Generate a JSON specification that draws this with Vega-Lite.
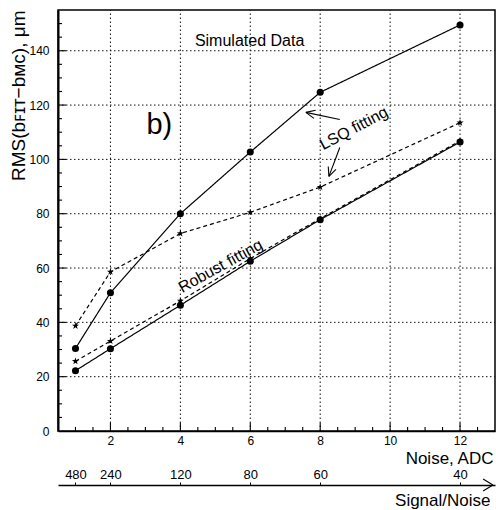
{
  "$schema": "https://vega.github.io/schema/vega-lite/v6.json",
  "width": 437,
  "height": 421,
  "autosize": {"type": "none"},
  "padding": {"left": 58, "top": 10, "right": 1, "bottom": 79},
  "background": "white",
  "config": {
    "view": {"stroke": "black", "strokeWidth": 1.5},
    "font": "Liberation Sans",
    "axis": {"labelFont": "Liberation Sans", "titleFont": "Liberation Sans", "labelColor": "black", "titleColor": "black", "titleFontWeight": "normal", "labelFlush": false}
  },
  "datasets": {
    "curves": [
      {"noise": 1, "rms": 30.4, "kind": "dot", "curve": "LSQ dot"},
      {"noise": 2, "rms": 50.9, "kind": "dot", "curve": "LSQ dot"},
      {"noise": 4, "rms": 80.0, "kind": "dot", "curve": "LSQ dot"},
      {"noise": 6, "rms": 102.7, "kind": "dot", "curve": "LSQ dot"},
      {"noise": 8, "rms": 124.7, "kind": "dot", "curve": "LSQ dot"},
      {"noise": 12, "rms": 149.5, "kind": "dot", "curve": "LSQ dot"},
      {"noise": 1, "rms": 38.7, "kind": "star", "curve": "LSQ star"},
      {"noise": 2, "rms": 58.6, "kind": "star", "curve": "LSQ star"},
      {"noise": 4, "rms": 72.7, "kind": "star", "curve": "LSQ star"},
      {"noise": 6, "rms": 80.5, "kind": "star", "curve": "LSQ star"},
      {"noise": 8, "rms": 89.8, "kind": "star", "curve": "LSQ star"},
      {"noise": 12, "rms": 113.5, "kind": "star", "curve": "LSQ star"},
      {"noise": 1, "rms": 22.2, "kind": "dot", "curve": "Robust dot"},
      {"noise": 2, "rms": 30.3, "kind": "dot", "curve": "Robust dot"},
      {"noise": 4, "rms": 46.3, "kind": "dot", "curve": "Robust dot"},
      {"noise": 6, "rms": 62.5, "kind": "dot", "curve": "Robust dot"},
      {"noise": 8, "rms": 77.8, "kind": "dot", "curve": "Robust dot"},
      {"noise": 12, "rms": 106.4, "kind": "dot", "curve": "Robust dot"},
      {"noise": 1, "rms": 25.7, "kind": "star", "curve": "Robust star"},
      {"noise": 2, "rms": 33.1, "kind": "star", "curve": "Robust star"},
      {"noise": 4, "rms": 47.9, "kind": "star", "curve": "Robust star"},
      {"noise": 6, "rms": 63.5, "kind": "star", "curve": "Robust star"},
      {"noise": 8, "rms": 78.2, "kind": "star", "curve": "Robust star"},
      {"noise": 12, "rms": 106.8, "kind": "star", "curve": "Robust star"}
    ],
    "segments": [
      {"part": "grid", "x": 2, "y": 0, "x2": 2, "y2": 155},
      {"part": "grid", "x": 4, "y": 0, "x2": 4, "y2": 155},
      {"part": "grid", "x": 6, "y": 0, "x2": 6, "y2": 155},
      {"part": "grid", "x": 8, "y": 0, "x2": 8, "y2": 155},
      {"part": "grid", "x": 10, "y": 0, "x2": 10, "y2": 155},
      {"part": "grid", "x": 12, "y": 0, "x2": 12, "y2": 155},
      {"part": "grid", "x": 0.5, "y": 20, "x2": 13, "y2": 20},
      {"part": "grid", "x": 0.5, "y": 40, "x2": 13, "y2": 40},
      {"part": "grid", "x": 0.5, "y": 60, "x2": 13, "y2": 60},
      {"part": "grid", "x": 0.5, "y": 80, "x2": 13, "y2": 80},
      {"part": "grid", "x": 0.5, "y": 100, "x2": 13, "y2": 100},
      {"part": "grid", "x": 0.5, "y": 120, "x2": 13, "y2": 120},
      {"part": "grid", "x": 0.5, "y": 140, "x2": 13, "y2": 140},
      {"part": "tick", "x": 1, "y": 0, "x2": 1, "y2": 1.5},
      {"part": "tick", "x": 1.5, "y": 0, "x2": 1.5, "y2": 1.5},
      {"part": "tick", "x": 2, "y": 0, "x2": 2, "y2": 3},
      {"part": "tick", "x": 2.5, "y": 0, "x2": 2.5, "y2": 1.5},
      {"part": "tick", "x": 3, "y": 0, "x2": 3, "y2": 1.5},
      {"part": "tick", "x": 3.5, "y": 0, "x2": 3.5, "y2": 1.5},
      {"part": "tick", "x": 4, "y": 0, "x2": 4, "y2": 3},
      {"part": "tick", "x": 4.5, "y": 0, "x2": 4.5, "y2": 1.5},
      {"part": "tick", "x": 5, "y": 0, "x2": 5, "y2": 1.5},
      {"part": "tick", "x": 5.5, "y": 0, "x2": 5.5, "y2": 1.5},
      {"part": "tick", "x": 6, "y": 0, "x2": 6, "y2": 3},
      {"part": "tick", "x": 6.5, "y": 0, "x2": 6.5, "y2": 1.5},
      {"part": "tick", "x": 7, "y": 0, "x2": 7, "y2": 1.5},
      {"part": "tick", "x": 7.5, "y": 0, "x2": 7.5, "y2": 1.5},
      {"part": "tick", "x": 8, "y": 0, "x2": 8, "y2": 3},
      {"part": "tick", "x": 8.5, "y": 0, "x2": 8.5, "y2": 1.5},
      {"part": "tick", "x": 9, "y": 0, "x2": 9, "y2": 1.5},
      {"part": "tick", "x": 9.5, "y": 0, "x2": 9.5, "y2": 1.5},
      {"part": "tick", "x": 10, "y": 0, "x2": 10, "y2": 3},
      {"part": "tick", "x": 10.5, "y": 0, "x2": 10.5, "y2": 1.5},
      {"part": "tick", "x": 11, "y": 0, "x2": 11, "y2": 1.5},
      {"part": "tick", "x": 11.5, "y": 0, "x2": 11.5, "y2": 1.5},
      {"part": "tick", "x": 12, "y": 0, "x2": 12, "y2": 3},
      {"part": "tick", "x": 12.5, "y": 0, "x2": 12.5, "y2": 1.5},
      {"part": "tick", "x": 0.5, "y": 5, "x2": 0.615, "y2": 5},
      {"part": "tick", "x": 0.5, "y": 10, "x2": 0.615, "y2": 10},
      {"part": "tick", "x": 0.5, "y": 15, "x2": 0.615, "y2": 15},
      {"part": "tick", "x": 0.5, "y": 20, "x2": 0.73, "y2": 20},
      {"part": "tick", "x": 0.5, "y": 25, "x2": 0.615, "y2": 25},
      {"part": "tick", "x": 0.5, "y": 30, "x2": 0.615, "y2": 30},
      {"part": "tick", "x": 0.5, "y": 35, "x2": 0.615, "y2": 35},
      {"part": "tick", "x": 0.5, "y": 40, "x2": 0.73, "y2": 40},
      {"part": "tick", "x": 0.5, "y": 45, "x2": 0.615, "y2": 45},
      {"part": "tick", "x": 0.5, "y": 50, "x2": 0.615, "y2": 50},
      {"part": "tick", "x": 0.5, "y": 55, "x2": 0.615, "y2": 55},
      {"part": "tick", "x": 0.5, "y": 60, "x2": 0.73, "y2": 60},
      {"part": "tick", "x": 0.5, "y": 65, "x2": 0.615, "y2": 65},
      {"part": "tick", "x": 0.5, "y": 70, "x2": 0.615, "y2": 70},
      {"part": "tick", "x": 0.5, "y": 75, "x2": 0.615, "y2": 75},
      {"part": "tick", "x": 0.5, "y": 80, "x2": 0.73, "y2": 80},
      {"part": "tick", "x": 0.5, "y": 85, "x2": 0.615, "y2": 85},
      {"part": "tick", "x": 0.5, "y": 90, "x2": 0.615, "y2": 90},
      {"part": "tick", "x": 0.5, "y": 95, "x2": 0.615, "y2": 95},
      {"part": "tick", "x": 0.5, "y": 100, "x2": 0.73, "y2": 100},
      {"part": "tick", "x": 0.5, "y": 105, "x2": 0.615, "y2": 105},
      {"part": "tick", "x": 0.5, "y": 110, "x2": 0.615, "y2": 110},
      {"part": "tick", "x": 0.5, "y": 115, "x2": 0.615, "y2": 115},
      {"part": "tick", "x": 0.5, "y": 120, "x2": 0.73, "y2": 120},
      {"part": "tick", "x": 0.5, "y": 125, "x2": 0.615, "y2": 125},
      {"part": "tick", "x": 0.5, "y": 130, "x2": 0.615, "y2": 130},
      {"part": "tick", "x": 0.5, "y": 135, "x2": 0.615, "y2": 135},
      {"part": "tick", "x": 0.5, "y": 140, "x2": 0.73, "y2": 140},
      {"part": "tick", "x": 0.5, "y": 145, "x2": 0.615, "y2": 145},
      {"part": "tick", "x": 0.5, "y": 150, "x2": 0.615, "y2": 150},
      {"part": "arrow", "x": 8.56, "y": 114.7, "x2": 7.59, "y2": 117.3},
      {"part": "arrow", "x": 7.59, "y": 117.3, "x2": 7.82, "y2": 115.1},
      {"part": "arrow", "x": 7.59, "y": 117.3, "x2": 7.87, "y2": 118.1},
      {"part": "arrow", "x": 8.56, "y": 104.4, "x2": 8.25, "y2": 93.75},
      {"part": "arrow", "x": 8.25, "y": 93.75, "x2": 8.45, "y2": 96.3},
      {"part": "arrow", "x": 8.25, "y": 93.75, "x2": 8.23, "y2": 97.4},
      {"part": "arrow", "x": 12.66, "y": -17.65, "x2": 12.94, "y2": -19.85},
      {"part": "arrow", "x": 12.66, "y": -22.06, "x2": 12.94, "y2": -19.85}
    ]
  },
  "resolve": {"axis": {"x": "independent", "y": "independent"}},
  "layer": [
    {
      "data": {"name": "segments"},
      "transform": [{"filter": "datum.part === 'grid'"}],
      "mark": {"type": "rule", "color": "#111111", "strokeWidth": 1, "strokeDash": [1.5, 2.5]},
      "encoding": {
        "x": {"field": "x", "type": "quantitative", "scale": {"domain": [0.5, 13], "nice": false, "zero": false}, "axis": null},
        "y": {"field": "y", "type": "quantitative", "scale": {"domain": [0, 155], "nice": false, "zero": false}, "axis": null},
        "x2": {"field": "x2"},
        "y2": {"field": "y2"}
      }
    },
    {
      "data": {"name": "curves"},
      "mark": {"type": "line", "color": "black", "strokeWidth": 1.2},
      "encoding": {
        "x": {"field": "noise", "type": "quantitative",
          "axis": {"orient": "bottom", "values": [2, 4, 6, 8, 10, 12], "grid": false, "ticks": false, "domainColor": "black", "domainWidth": 1.5, "labelFontSize": 12, "labelPadding": 4,
            "title": "Noise, ADC", "titleFontSize": 17, "titleAnchor": "end", "titleAlign": "right", "titleBaseline": "alphabetic", "titleX": 435, "titleY": 32}},
        "y": {"field": "rms", "type": "quantitative",
          "axis": {"orient": "left", "values": [0, 20, 40, 60, 80, 100, 120, 140], "grid": false, "ticks": false, "domainColor": "black", "domainWidth": 2, "labelFontSize": 12, "labelPadding": 9,
            "title": "RMS(bꜰɪᴛ−bᴍᴄ), μm", "titleFontSize": 19, "titleAngle": -90, "titleAnchor": "end", "titleAlign": "right", "titleBaseline": "alphabetic", "titleX": -34, "titleY": 0}},
        "detail": {"field": "curve"},
        "strokeDash": {"field": "kind", "type": "nominal", "scale": {"domain": ["dot", "star"], "range": [[1, 0], [4, 3]]}, "legend": null}
      }
    },
    {
      "data": {"name": "curves"},
      "transform": [{"filter": "datum.kind === 'dot'"}],
      "mark": {"type": "point", "shape": "circle", "filled": true, "color": "black", "size": 50, "opacity": 1},
      "encoding": {
        "x": {"field": "noise", "type": "quantitative", "axis": null},
        "y": {"field": "rms", "type": "quantitative", "axis": null}
      }
    },
    {
      "data": {"name": "curves"},
      "transform": [{"filter": "datum.kind === 'star'"}],
      "mark": {"type": "point", "shape": "M0,-1L0.235,-0.324L0.951,-0.309L0.38,0.124L0.588,0.809L0,0.4L-0.588,0.809L-0.38,0.124L-0.951,-0.309L-0.235,-0.324Z", "filled": true, "color": "black", "size": 55, "opacity": 1},
      "encoding": {
        "x": {"field": "noise", "type": "quantitative", "axis": null},
        "y": {"field": "rms", "type": "quantitative", "axis": null}
      }
    },
    {
      "data": {"name": "curves"},
      "mark": {"type": "point", "opacity": 0},
      "encoding": {
        "x": {"field": "noise", "type": "quantitative",
          "axis": {"orient": "top", "offset": -475, "values": [1, 2, 4, 6, 8, 12], "labelExpr": "480 / datum.value", "grid": false, "ticks": true, "tickColor": "black", "tickSize": 3, "tickWidth": 1, "labelPadding": 1, "domainColor": "black", "domainWidth": 1.5, "labelFontSize": 13,
            "title": "Signal/Noise", "titleFontSize": 17, "titleAnchor": "end", "titleAlign": "right", "titleBaseline": "alphabetic", "titleX": 432, "titleY": 20}},
        "y": {"field": "rms", "type": "quantitative", "axis": null}
      }
    },
    {
      "data": {"name": "segments"},
      "transform": [{"filter": "datum.part !== 'grid'"}],
      "mark": {"type": "rule", "color": "black", "strokeWidth": 1.1},
      "encoding": {
        "x": {"field": "x", "type": "quantitative", "axis": null},
        "y": {"field": "y", "type": "quantitative", "axis": null},
        "x2": {"field": "x2"},
        "y2": {"field": "y2"}
      }
    },
    {
      "data": {"values": [{"x": 5.98, "y": 143.7, "label": "Simulated Data"}]},
      "mark": {"type": "text", "fontSize": 16, "font": "Liberation Sans", "baseline": "middle", "align": "center", "color": "black"},
      "encoding": {
        "x": {"field": "x", "type": "quantitative", "axis": null},
        "y": {"field": "y", "type": "quantitative", "axis": null},
        "text": {"field": "label"}
      }
    },
    {
      "data": {"values": [{"x": 3.4, "y": 112.5, "label": "b)"}]},
      "mark": {"type": "text", "fontSize": 29, "font": "Liberation Sans", "baseline": "middle", "align": "center", "color": "black"},
      "encoding": {
        "x": {"field": "x", "type": "quantitative", "axis": null},
        "y": {"field": "y", "type": "quantitative", "axis": null},
        "text": {"field": "label"}
      }
    },
    {
      "data": {"values": [{"x": 8.96, "y": 111.4, "label": "LSQ fitting"}]},
      "mark": {"type": "text", "fontSize": 16, "font": "Liberation Sans", "baseline": "middle", "align": "center", "angle": -28, "color": "black"},
      "encoding": {
        "x": {"field": "x", "type": "quantitative", "axis": null},
        "y": {"field": "y", "type": "quantitative", "axis": null},
        "text": {"field": "label"}
      }
    },
    {
      "data": {"values": [{"x": 5.15, "y": 60.7, "label": "Robust fitting"}]},
      "mark": {"type": "text", "fontSize": 16, "font": "Liberation Sans", "baseline": "middle", "align": "center", "angle": -29, "color": "black"},
      "encoding": {
        "x": {"field": "x", "type": "quantitative", "axis": null},
        "y": {"field": "y", "type": "quantitative", "axis": null},
        "text": {"field": "label"}
      }
    }
  ]
}
